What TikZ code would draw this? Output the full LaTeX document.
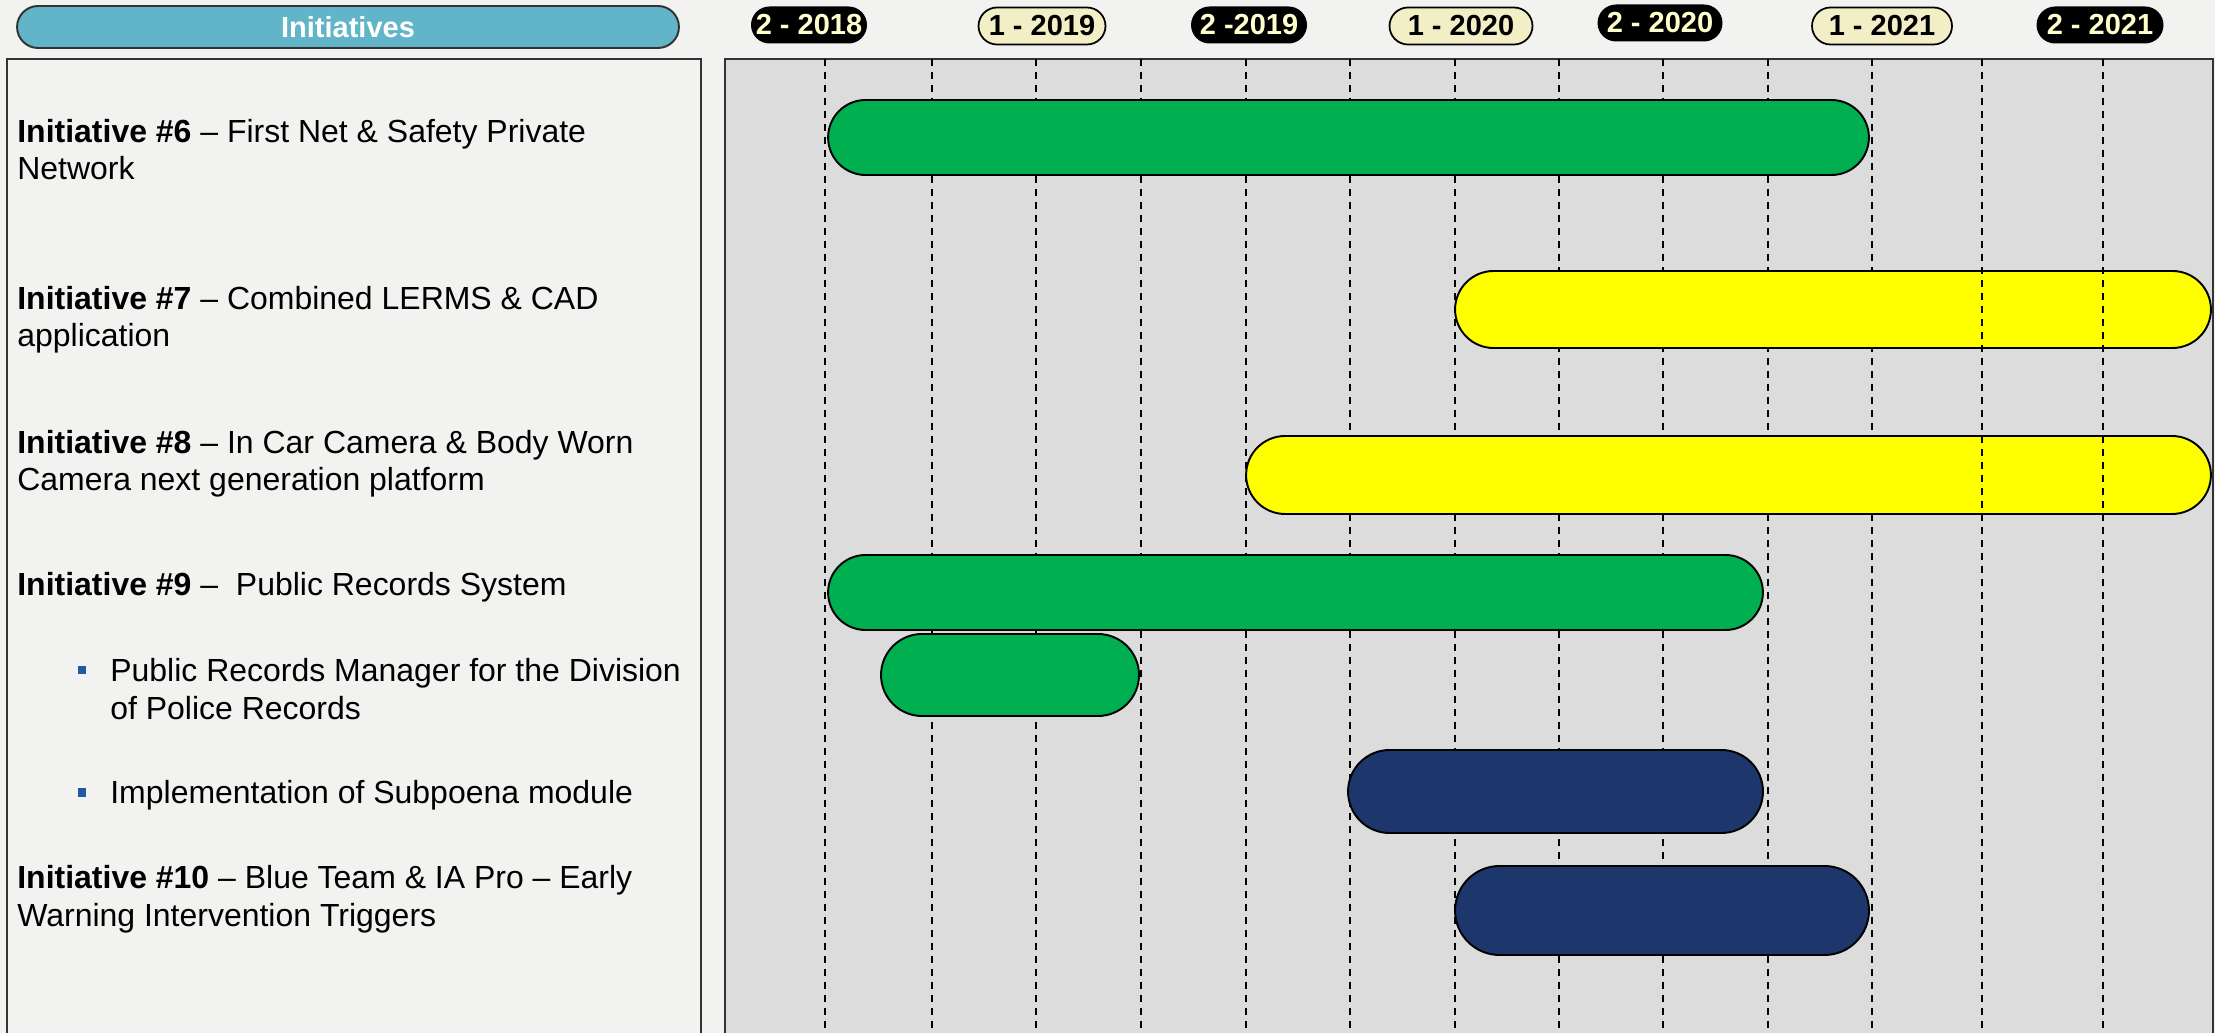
\documentclass[tikz,border=0pt]{standalone}
\usepackage{fontspec}
\setmainfont{Liberation Sans}

\definecolor{pageBg}{HTML}{F2F2F0}
\definecolor{chartBg}{HTML}{DCDCDC}
\definecolor{barGreen}{HTML}{00B050}
\definecolor{barYellow}{HTML}{FFFF00}
\definecolor{barNavy}{HTML}{1D366B}
\definecolor{headTeal}{HTML}{62B5C8}
\definecolor{paleYellow}{HTML}{F2EFC6}
\definecolor{paleText}{HTML}{FFFFCC}
\definecolor{bulletBlue}{HTML}{1F5C9E}

\begin{document}
\begin{tikzpicture}[x=0.02cm, y=-0.02cm,
    panel/.style={draw=black!80, line width=1.1pt},
    gridLine/.style={black, line width=0.9pt, dash pattern=on 0.15cm off 0.11cm},
    pillDark/.style={rectangle, rounded corners=0.37cm, fill=black, text=paleText, inner sep=0pt, minimum height=0.74cm, font=\fontsize{16.5}{18}\selectfont\bfseries},
    pillLight/.style={rectangle, rounded corners=0.37cm, draw=black, line width=1pt, fill=paleYellow, text=black, inner sep=0pt, minimum height=0.74cm, font=\fontsize{16.5}{18}\selectfont\bfseries},
    bar/.style={rectangle, draw=black, line width=1.1pt, inner sep=0pt, outer sep=0pt},
    initText/.style={font=\fontsize{18.2}{21.6}\selectfont, align=left, inner sep=0pt},
    bulletSq/.style={rectangle, fill=bulletBlue, inner sep=0pt, minimum size=0.18cm}]

    % Page and panels
    \path[use as bounding box, fill=pageBg] (0,0) rectangle (2215,1033);
    \clip (0,0) rectangle (2215,1033);
    \draw[panel, fill=pageBg] (7,59) rectangle (701,1060);
    \draw[panel, fill=chartBg] (725,59) rectangle (2213,1060);

    % Header row
    \node[rectangle, rounded corners=0.42cm, draw=black!80, line width=1.1pt, fill=headTeal, text=white, minimum width=13.24cm, minimum height=0.84cm, font=\fontsize{16.5}{18}\selectfont\bfseries] (head) at (348,27) {Initiatives};
    \node[pillDark, minimum width=2.32cm] (h18b) at (809,25) {2 - 2018};
    \node[pillLight, minimum width=2.54cm] (h19a) at (1042,26) {1 - 2019};
    \node[pillDark, minimum width=2.32cm] (h19b) at (1249,25) {2 -2019};
    \node[pillLight, minimum width=2.86cm] (h20a) at (1461,26) {1 - 2020};
    \node[pillDark, minimum width=2.5cm] (h20b) at (1660,23) {2 - 2020};
    \node[pillLight, minimum width=2.8cm] (h21a) at (1882,26) {1 - 2021};
    \node[pillDark, minimum width=2.54cm] (h21b) at (2100,25) {2 - 2021};

    % Half-year grid
    \foreach \gx in {825,932,1036,1141,1246,1350,1455,1559,1663,1768,1872}
        \draw[gridLine] (\gx,59) -- (\gx,1033);

    % Bars
    \node[bar, fill=barGreen, minimum width=20.82cm, minimum height=1.5cm, rounded corners=0.75cm] (bar6) at (1348.5,137.5) {};
    \node[bar, fill=barYellow, minimum width=15.12cm, minimum height=1.54cm, rounded corners=0.77cm] (bar7) at (1833,309.5) {};
    \node[bar, fill=barYellow, minimum width=19.3cm, minimum height=1.56cm, rounded corners=0.78cm] (bar8) at (1728.5,475) {};
    \node[bar, fill=barGreen, minimum width=18.7cm, minimum height=1.5cm, rounded corners=0.75cm] (bar9) at (1295.5,592.5) {};
    \node[bar, fill=barGreen, minimum width=5.16cm, minimum height=1.64cm, rounded corners=0.82cm] (bar9a) at (1010,675) {};
    \node[bar, fill=barNavy, minimum width=8.3cm, minimum height=1.66cm, rounded corners=0.83cm] (bar9b) at (1555.5,791.5) {};
    \node[bar, fill=barNavy, minimum width=8.28cm, minimum height=1.78cm, rounded corners=0.89cm] (bar10) at (1662,910.5) {};

    \foreach \gx in {1982,2103}
        \draw[gridLine] (\gx,59) -- (\gx,1033);

    % Initiative labels (base = last line)
    \node[initText, anchor=base west] (init6) at (17,180) {\textbf{Initiative \#6} – First Net \& Safety Private\\Network};
    \node[initText, anchor=base west] (init7) at (17,347) {\textbf{Initiative \#7} – Combined LERMS \& CAD\\application};
    \node[initText, anchor=base west] (init8) at (17,491) {\textbf{Initiative \#8} – In Car Camera \& Body Worn\\Camera next generation platform};
    \node[initText, anchor=base west] (init9) at (17,596) {\textbf{Initiative \#9} –\ \ Public Records System};
    \node[bulletSq] (dot9a) at (82,670) {};
    \node[initText, anchor=base west] (sub9a) at (110,719) {Public Records Manager for the Division\\of Police Records};
    \node[bulletSq] (dot9b) at (82,792) {};
    \node[initText, anchor=base west] (sub9b) at (110,803) {Implementation of Subpoena module};
    \node[initText, anchor=base west] (init10) at (17,926) {\textbf{Initiative \#10} – Blue Team \& IA Pro – Early\\Warning Intervention Triggers};

\end{tikzpicture}
\end{document}
